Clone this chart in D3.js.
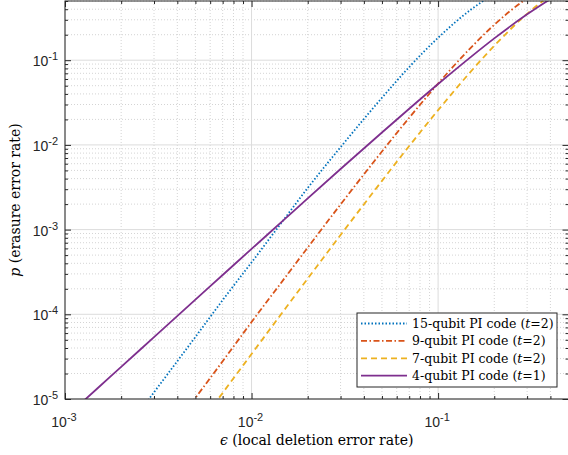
<!DOCTYPE html>
<html>
<head>
<meta charset="utf-8">
<script src="https://cdn.jsdelivr.net/npm/d3@7"></script>
<style>
  body { margin: 0; background: #fff; }
</style>
</head>
<body>
<div id="chart"></div>
<script>
// local deletion error rate (x) and erasure error rate for each code
var epsilon = [0.001, 0.0015, 0.002, 0.003, 0.005, 0.007, 0.01, 0.015, 0.02, 0.03, 0.05, 0.07, 0.1, 0.15, 0.2, 0.3, 0.4, 0.5];
var code15 = [4.5e-7, 1.5e-6, 3.6e-6, 1.2e-5, 5.4e-5, 1.47e-4, 4.1e-4, 1.34e-3, 3.1e-3, 9.4e-3, 0.036, 0.083, 0.184, 0.396, 0.602, 0.873, 0.973, 0.996];
var code9 = [8.4e-8, 2.8e-7, 6.7e-7, 2.24e-6, 1.03e-5, 2.79e-5, 8.1e-5, 2.65e-4, 6.14e-4, 1.98e-3, 8.36e-3, 0.0209, 0.053, 0.141, 0.262, 0.537, 0.768, 0.91];
var code7 = [3.5e-8, 1.18e-7, 2.78e-7, 9.4e-7, 4.31e-6, 1.18e-5, 3.4e-5, 1.13e-4, 2.64e-4, 8.63e-4, 3.76e-3, 9.7e-3, 0.0257, 0.0738, 0.148, 0.353, 0.58, 0.773];
var code4 = [6.0e-6, 1.35e-5, 2.39e-5, 5.38e-5, 1.49e-4, 2.91e-4, 5.92e-4, 1.32e-3, 2.34e-3, 5.19e-3, 0.014, 0.0267, 0.0523, 0.1095, 0.181, 0.348, 0.525, 0.6875];

var seriesNames = ["15-qubit PI code", "9-qubit PI code", "7-qubit PI code", "4-qubit PI code"];
var seriesT = ["2", "2", "2", "1"];

var xTickExp = [-3, -2, -1];
var yTickExp = [-5, -4, -3, -2, -1];

var width = 568,
  height = 455;
var plotL = 65,
  plotR = 568.5,
  plotT = 1,
  plotB = 399;

var svg = d3.select("#chart").append("svg").attr("width", width).attr("height", height);

var x = d3.scaleLog().domain([1e-3, 0.5]).range([plotL, plotR]);
var y = d3.scaleLog().domain([1e-5, 0.5]).range([plotB, plotT]);

// minor tick positions
var xMinor = [];
[-3, -2, -1].forEach(function (e) {
  for (var k = 2; k <= 9; k++) {
    var v = k * Math.pow(10, e);
    if (v <= 0.5) xMinor.push(v);
  }
});
var yMinor = [];
[-5, -4, -3, -2, -1].forEach(function (e) {
  for (var k = 2; k <= 9; k++) {
    var v = k * Math.pow(10, e);
    if (v <= 0.5) yMinor.push(v);
  }
});
var xMajor = xTickExp.map(function (e) { return Math.pow(10, e); });
var yMajor = yTickExp.map(function (e) { return Math.pow(10, e); });

// grid
var grid = svg.append("g");
grid.selectAll(".gxm").data(xMinor).enter().append("line")
  .attr("x1", x).attr("x2", x).attr("y1", plotT).attr("y2", plotB)
  .attr("stroke", "#d4d4d4").attr("stroke-width", 1).attr("stroke-dasharray", "1,2");
grid.selectAll(".gym").data(yMinor).enter().append("line")
  .attr("x1", plotL).attr("x2", plotR).attr("y1", y).attr("y2", y)
  .attr("stroke", "#d4d4d4").attr("stroke-width", 1).attr("stroke-dasharray", "1,2");
grid.selectAll(".gx").data(xMajor).enter().append("line")
  .attr("x1", x).attr("x2", x).attr("y1", plotT).attr("y2", plotB)
  .attr("stroke", "#dcdcdc").attr("stroke-width", 1);
grid.selectAll(".gy").data(yMajor).enter().append("line")
  .attr("x1", plotL).attr("x2", plotR).attr("y1", y).attr("y2", y)
  .attr("stroke", "#dcdcdc").attr("stroke-width", 1);

// curves
svg.append("clipPath").attr("id", "clip").append("rect")
  .attr("x", plotL).attr("y", plotT).attr("width", plotR - plotL).attr("height", plotB - plotT);

var line = d3.line()
  .x(function (d) { return x(d[0]); })
  .y(function (d) { return y(d[1]); })
  .curve(d3.curveMonotoneX);

var series = [
  { values: code15, color: "#0072BD", dash: "1.5,2" },
  { values: code9, color: "#D95319", dash: "6,2.5,1.5,2.5" },
  { values: code7, color: "#EDB120", dash: "6,4" },
  { values: code4, color: "#7E2F8E", dash: null }
];

var curves = svg.append("g").attr("clip-path", "url(#clip)");
series.forEach(function (s) {
  curves.append("path")
    .datum(epsilon.map(function (e, i) { return [e, s.values[i]]; }))
    .attr("d", line)
    .attr("fill", "none")
    .attr("stroke", s.color)
    .attr("stroke-width", 1.8)
    .attr("stroke-dasharray", s.dash);
});

// axes with inward ticks, on all four sides
var axisColor = "#262626";
function styleAxis(g) {
  g.select(".domain").remove();
  g.selectAll(".tick line").attr("stroke", axisColor).attr("stroke-width", 1);
  g.selectAll(".tick text").remove();
}
svg.append("g").attr("transform", "translate(0," + plotB + ")")
  .call(d3.axisBottom(x).tickValues(xMajor).tickSize(-6)).call(styleAxis);
svg.append("g").attr("transform", "translate(0," + plotB + ")")
  .call(d3.axisBottom(x).tickValues(xMinor).tickSize(-3)).call(styleAxis);
svg.append("g").attr("transform", "translate(0," + plotT + ")")
  .call(d3.axisTop(x).tickValues(xMajor).tickSize(-6)).call(styleAxis);
svg.append("g").attr("transform", "translate(0," + plotT + ")")
  .call(d3.axisTop(x).tickValues(xMinor).tickSize(-3)).call(styleAxis);
svg.append("g").attr("transform", "translate(" + plotL + ",0)")
  .call(d3.axisLeft(y).tickValues(yMajor).tickSize(-6)).call(styleAxis);
svg.append("g").attr("transform", "translate(" + plotL + ",0)")
  .call(d3.axisLeft(y).tickValues(yMinor).tickSize(-3)).call(styleAxis);
svg.append("g").attr("transform", "translate(" + plotR + ",0)")
  .call(d3.axisRight(y).tickValues(yMajor).tickSize(-6)).call(styleAxis);
svg.append("g").attr("transform", "translate(" + plotR + ",0)")
  .call(d3.axisRight(y).tickValues(yMinor).tickSize(-3)).call(styleAxis);

svg.append("rect")
  .attr("x", plotL).attr("y", plotT).attr("width", plotR - plotL).attr("height", plotB - plotT)
  .attr("fill", "none").attr("stroke", axisColor).attr("stroke-width", 1);

// tick labels 10^k
var tickFont = "'Liberation Sans', Arial, sans-serif";
function powLabel(sel, e) {
  sel.append("tspan").text("10");
  sel.append("tspan").attr("dy", -6).attr("font-size", 11).text(String(e));
}
xTickExp.forEach(function (e) {
  var t = svg.append("text")
    .attr("x", x(Math.pow(10, e)) - 1).attr("y", 427)
    .attr("text-anchor", "middle")
    .attr("font-family", tickFont).attr("font-size", 14).attr("fill", axisColor);
  powLabel(t, e);
});
yTickExp.forEach(function (e) {
  var t = svg.append("text")
    .attr("x", 58).attr("y", y(Math.pow(10, e)) + 6)
    .attr("text-anchor", "end")
    .attr("font-family", tickFont).attr("font-size", 14).attr("fill", axisColor);
  powLabel(t, e);
});

// axis titles
var serif = "'DejaVu Serif', 'Liberation Serif', serif";
var xt = svg.append("text")
  .attr("x", (plotL + plotR) / 2).attr("y", 445)
  .attr("text-anchor", "middle")
  .attr("font-family", serif).attr("font-size", 14).attr("fill", "#000");
xt.append("tspan").attr("font-style", "italic").text("\u03f5");
xt.append("tspan").text(" (local deletion error rate)");

var yt = svg.append("text")
  .attr("transform", "translate(20," + (plotT + plotB) / 2 + ") rotate(-90)")
  .attr("text-anchor", "middle")
  .attr("font-family", serif).attr("font-size", 14).attr("fill", "#000");
yt.append("tspan").attr("font-style", "italic").text("p");
yt.append("tspan").text(" (erasure error rate)");

// legend
var lg = svg.append("g");
lg.append("rect")
  .attr("x", 357).attr("y", 313).attr("width", 200).attr("height", 74)
  .attr("fill", "#fff").attr("stroke", axisColor).attr("stroke-width", 1);
series.forEach(function (s, i) {
  var ly = 323.5 + i * 17.4;
  lg.append("line")
    .attr("x1", 361).attr("x2", 407).attr("y1", ly).attr("y2", ly)
    .attr("stroke", s.color).attr("stroke-width", 1.8).attr("stroke-dasharray", s.dash);
  var t = lg.append("text")
    .attr("x", 412).attr("y", ly + 4.5)
    .attr("font-family", serif).attr("font-size", 12.5).attr("fill", "#000");
  t.append("tspan").text(seriesNames[i] + " (");
  t.append("tspan").attr("font-style", "italic").text("t");
  t.append("tspan").text("=" + seriesT[i] + ")");
});
</script>
</body>
</html>
